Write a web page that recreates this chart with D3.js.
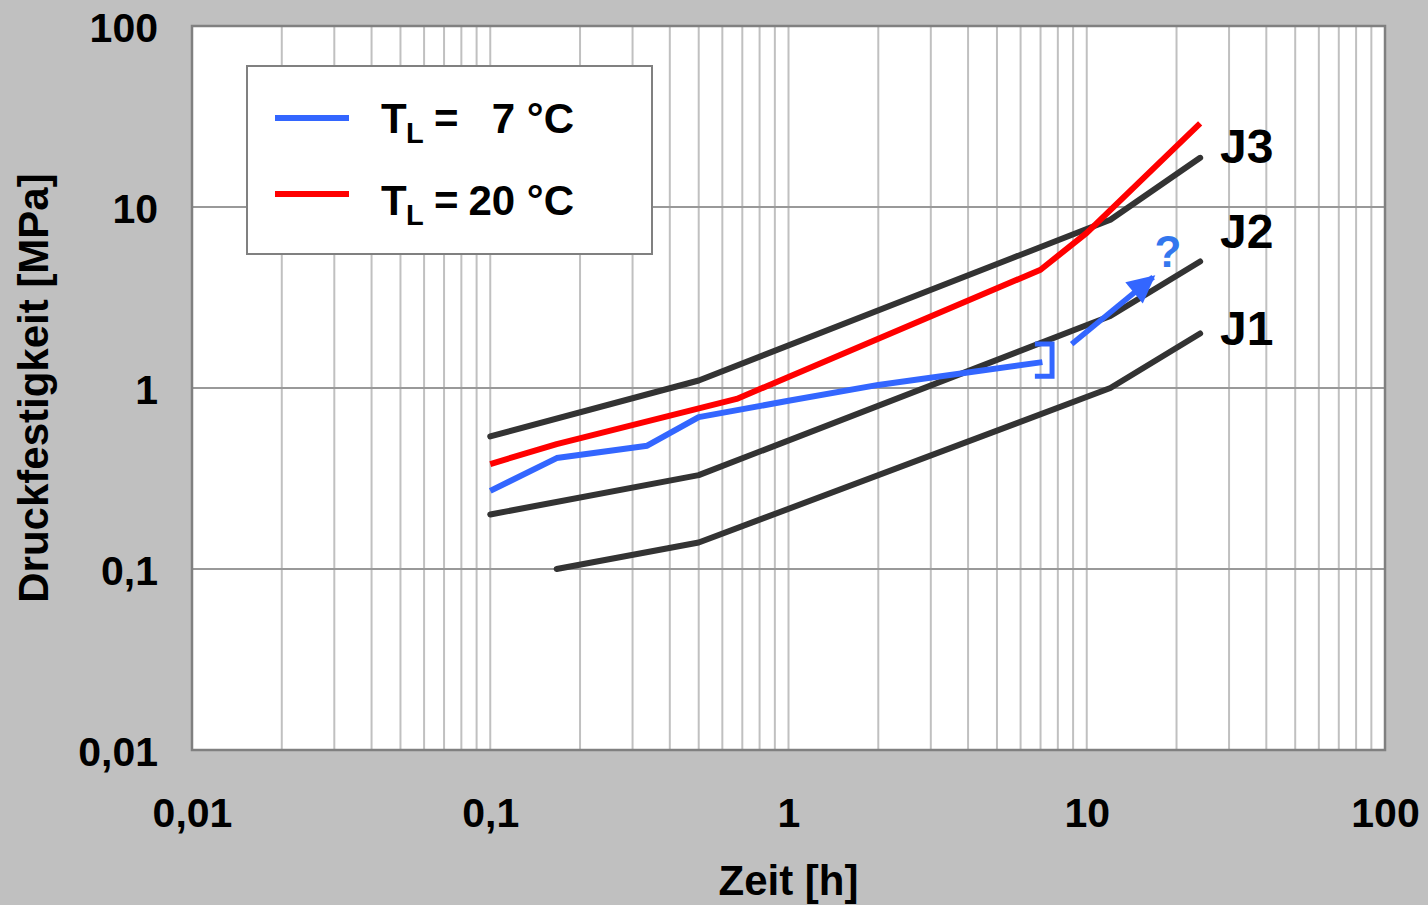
<!DOCTYPE html>
<html>
<head>
<meta charset="utf-8">
<script src="https://cdn.jsdelivr.net/npm/d3@7"></script>
<style>
  body { margin: 0; background: #c0c0c0; }
  svg { display: block; font-family: "Liberation Sans", Arial, sans-serif; font-weight: bold; }
</style>
</head>
<body>
<div id="chart"></div>
<script>
// decades shown on both axes
var decades = [0.01, 0.1, 1, 10, 100];

// curves J1..J3 (zeit [h], druckfestigkeit [MPa])
var j3_t = [0.1, 0.5, 12, 24];
var j3_v = [0.54, 1.1, 8.5, 18.7];
var j2_t = [0.1, 0.5, 12, 24];
var j2_v = [0.2, 0.33, 2.5, 5.0];
var j1_t = [0.167, 0.5, 12, 24];
var j1_v = [0.1, 0.14, 1.0, 2.0];

// measured series
var t7_t = [0.1, 0.167, 0.336, 0.5, 1, 2, 7.1];
var t7_v = [0.27, 0.41, 0.48, 0.69, 0.85, 1.04, 1.39];
var t20_t = [0.1, 0.167, 0.67, 7, 10, 24];
var t20_v = [0.38, 0.49, 0.87, 4.5, 7.2, 29];

var curveNames = ["J3", "J2", "J1"];

// annotation: bracket + arrow + "?"
var bracket_t = [6.7, 7.65, 7.65, 6.7];
var bracket_v = [1.75, 1.75, 1.16, 1.16];
var arrow_t = [8.9, 16.7];
var arrow_v = [1.75, 4.1];

function zip(ts, vs){ return ts.map(function(t, i){ return {t: t, v: vs[i]}; }); }

var width = 1428, height = 905;
var pl = 192, pr = 1385, pt = 26, pb = 750;

var svg = d3.select("#chart").append("svg")
	.attr("width", width)
	.attr("height", height);

svg.append("rect").attr("width", width).attr("height", height).attr("fill", "#c0c0c0");

var x = d3.scaleLog().domain([0.01, 100]).range([pl, pr]);
var y = d3.scaleLog().domain([0.01, 100]).range([pb, pt]);

svg.append("rect")
	.attr("x", pl).attr("y", pt)
	.attr("width", pr - pl).attr("height", pb - pt)
	.attr("fill", "#ffffff");

// vertical grid (all log ticks)
svg.append("g").selectAll("line")
	.data(x.ticks().filter(function(d){ return d > 0.01 && d < 100; }))
	.enter().append("line")
	.attr("x1", function(d){ return x(d); })
	.attr("x2", function(d){ return x(d); })
	.attr("y1", pt).attr("y2", pb)
	.attr("stroke", "#c0c0c0")
	.attr("stroke-width", 2);

// horizontal grid (decades only)
svg.append("g").selectAll("line")
	.data(decades.slice(1, -1))
	.enter().append("line")
	.attr("y1", function(d){ return y(d); })
	.attr("y2", function(d){ return y(d); })
	.attr("x1", pl).attr("x2", pr)
	.attr("stroke", "#999999")
	.attr("stroke-width", 2);

svg.append("rect")
	.attr("x", pl).attr("y", pt)
	.attr("width", pr - pl).attr("height", pb - pt)
	.attr("fill", "none")
	.attr("stroke", "#808080")
	.attr("stroke-width", 2.5);

var de = d3.formatLocale({decimal: ",", thousands: ".", grouping: [3], currency: ["", "€"]});
var fmt = de.format("~g");

var xAxis = svg.append("g")
	.attr("transform", "translate(0," + pb + ")")
	.call(d3.axisBottom(x).tickValues(decades).tickFormat(fmt).tickSize(0).tickPadding(0));
xAxis.select(".domain").remove();
xAxis.selectAll("text")
	.attr("dy", null)
	.attr("y", 77)
	.attr("fill", "#000")
	.style("font-size", "41px")
	.style("font-family", "'Liberation Sans', Arial, sans-serif")
	.style("font-weight", "bold");

var yAxis = svg.append("g")
	.attr("transform", "translate(" + pl + ",0)")
	.call(d3.axisLeft(y).tickValues(decades).tickFormat(fmt).tickSize(0).tickPadding(0));
yAxis.select(".domain").remove();
yAxis.selectAll("text")
	.attr("dy", null)
	.attr("x", -34)
	.attr("y", 15)
	.attr("fill", "#000")
	.style("font-size", "41px")
	.style("font-family", "'Liberation Sans', Arial, sans-serif")
	.style("font-weight", "bold");

svg.append("text")
	.attr("x", (pl + pr) / 2)
	.attr("y", 895)
	.attr("text-anchor", "middle")
	.style("font-size", "42px")
	.text("Zeit [h]");

svg.append("text")
	.attr("transform", "translate(48," + ((pt + pb) / 2) + ") rotate(-90)")
	.attr("text-anchor", "middle")
	.style("font-size", "42px")
	.text("Druckfestigkeit [MPa]");

var line = d3.line()
	.x(function(d){ return x(d.t); })
	.y(function(d){ return y(d.v); });

var curves = [zip(j3_t, j3_v), zip(j2_t, j2_v), zip(j1_t, j1_v)];
svg.append("g").selectAll("path")
	.data(curves)
	.enter().append("path")
	.attr("d", line)
	.attr("fill", "none")
	.attr("stroke", "#333333")
	.attr("stroke-width", 6)
	.attr("stroke-linecap", "round")
	.attr("stroke-linejoin", "round");

svg.append("g").selectAll("text")
	.data(curves)
	.enter().append("text")
	.attr("x", 1220)
	.attr("y", function(d, i){ return [163, 248, 345][i]; })
	.style("font-size", "48px")
	.text(function(d, i){ return curveNames[i]; });

svg.append("path")
	.attr("d", line(zip(t20_t, t20_v)))
	.attr("fill", "none")
	.attr("stroke", "#ff0000")
	.attr("stroke-width", 6)
	.attr("stroke-linejoin", "round");

svg.append("path")
	.attr("d", line(zip(t7_t, t7_v)))
	.attr("fill", "none")
	.attr("stroke", "#3366ff")
	.attr("stroke-width", 6)
	.attr("stroke-linejoin", "round");

// bracket
svg.append("path")
	.attr("d", line(zip(bracket_t, bracket_v)))
	.attr("fill", "none")
	.attr("stroke", "#3366ff")
	.attr("stroke-width", 5);

// arrow
svg.append("defs").append("marker")
	.attr("id", "ah")
	.attr("viewBox", "0 0 10 10")
	.attr("refX", 9).attr("refY", 5)
	.attr("markerWidth", 5.2).attr("markerHeight", 5)
	.attr("markerUnits", "strokeWidth")
	.attr("orient", "auto")
	.append("path")
	.attr("d", "M0,0 L10,5 L0,10 Z")
	.attr("fill", "#3366ff");

svg.append("path")
	.attr("d", line(zip(arrow_t, arrow_v)))
	.attr("fill", "none")
	.attr("stroke", "#3366ff")
	.attr("stroke-width", 5.5)
	.attr("marker-end", "url(#ah)");

svg.append("text")
	.attr("x", 1168)
	.attr("y", 267)
	.attr("text-anchor", "middle")
	.attr("fill", "#3377ee")
	.style("font-size", "44px")
	.text("?");

// legend
var legend = svg.append("g");
legend.append("rect")
	.attr("x", 247).attr("y", 66)
	.attr("width", 405).attr("height", 188)
	.attr("fill", "#ffffff")
	.attr("stroke", "#808080")
	.attr("stroke-width", 2);

var legItems = [
	{color: "#3366ff", val: "7 °C", ly: 118, by: 133},
	{color: "#ff0000", val: "20 °C", ly: 194, by: 215}
];
legItems.forEach(function(d){
	legend.append("line")
		.attr("x1", 275).attr("x2", 349)
		.attr("y1", d.ly).attr("y2", d.ly)
		.attr("stroke", d.color)
		.attr("stroke-width", 6);
	legend.append("text").attr("x", 381).attr("y", d.by)
		.style("font-size", "42px").text("T");
	legend.append("text").attr("x", 406).attr("y", d.by + 10)
		.style("font-size", "29px").text("L");
	legend.append("text").attr("x", 434).attr("y", d.by)
		.style("font-size", "42px").text("=");
	legend.append("text").attr("x", 574).attr("y", d.by)
		.attr("text-anchor", "end")
		.style("font-size", "42px").text(d.val);
});
</script>
</body>
</html>
